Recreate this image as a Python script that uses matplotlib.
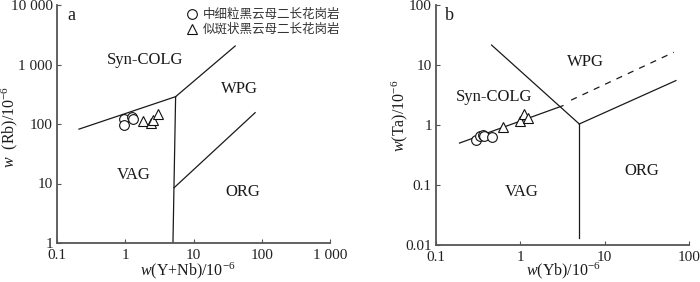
import matplotlib
matplotlib.use("Agg")
import matplotlib.pyplot as plt
import numpy as np

plt.rcParams['font.family'] = ['Liberation Serif', 'Noto Sans CJK SC']
plt.rcParams['mathtext.fontset'] = 'custom'
plt.rcParams['mathtext.rm'] = 'Liberation Serif'
plt.rcParams['mathtext.it'] = 'Liberation Serif:italic'

# ---------------- data: panel a (Rb vs Y+Nb) ----------------
a_circ_x = [0.95, 0.97, 1.25, 1.28]
a_circ_y = [122, 97, 133, 120]
a_tri_x = [1.8, 2.35, 2.57, 3.0]
a_tri_y = [114, 103, 117, 147]

a_lines = [
    ([0.21, 5.47], [82, 288]),
    ([5.47, 40.8], [288, 2046]),
    ([5.47, 5.0], [288, 1]),
    ([5.2, 80], [8.5, 155]),
]
a_xticks = [0.1, 1, 10, 100, 1000]
a_xticklabels = ['0.1', '1', '10', '100', '1 000']
a_yticks = [1, 10, 100, 1000, 10000]
a_yticklabels = ['1', '10', '100', '1 000', '10 000']

# ---------------- data: panel b (Ta vs Yb) ----------------
b_circ_x = [0.30, 0.33, 0.36, 0.37, 0.46]
b_circ_y = [0.56, 0.66, 0.68, 0.66, 0.62]
b_tri_x = [0.63, 1.0, 1.1, 1.24]
b_tri_y = [0.94, 1.17, 1.55, 1.29]

b_lines = [
    ([0.456, 5.0], [21.5, 1.04]),
    ([5.0, 5.0], [1.04, 0.013]),
    ([5.0, 70], [1.04, 5.5]),
    ([0.19, 3.2], [0.5, 2.1]),
]
b_dashed = ([4.0, 66], [2.6, 16.3])
b_xticks = [0.1, 1, 10, 100]
b_xticklabels = ['0.1', '1', '10', '100']
b_yticks = [0.01, 0.1, 1, 10, 100]
b_yticklabels = ['0.01', '0.1', '1', '10', '100']

legend_labels = ['中细粒黑云母二长花岗岩', '似斑状黑云母二长花岗岩']

fig = plt.figure(figsize=(7.0, 2.82), dpi=100)
ax_a = fig.add_axes([57/700, 39/282, 273/700, 238/282])
ax_b = fig.add_axes([436/700, 37/282, 253/700, 240/282])

LC = '#1a1a1a'
SC = '#555555'

def style(ax, xt, xtl, yt, ytl, xlim, ylim):
    ax.set_xscale('log')
    ax.set_yscale('log')
    ax.set_xlim(*xlim)
    ax.set_ylim(*ylim)
    ax.spines['top'].set_visible(False)
    ax.spines['right'].set_visible(False)
    for s in ('left', 'bottom'):
        ax.spines[s].set_color(SC)
        ax.spines[s].set_linewidth(1.3)
    ax.set_xticks(xt)
    ax.set_xticklabels(xtl)
    ax.set_yticks(yt)
    ax.set_yticklabels(ytl)
    ax.minorticks_off()
    ax.tick_params(direction='in', length=3, width=0.8, color=SC,
                   labelsize=11, pad=3, labelcolor='#222222')
    ax.tick_params(axis='x', pad=4.5)
    ax.set_facecolor('none')

style(ax_a, a_xticks, a_xticklabels, a_yticks, a_yticklabels, (0.1, 1000), (1, 10000))
style(ax_b, b_xticks, b_xticklabels, b_yticks, b_yticklabels, (0.1, 100), (0.01, 100))

for xs, ys in a_lines:
    ax_a.plot(xs, ys, color=LC, lw=0.9)
for xs, ys in b_lines:
    ax_b.plot(xs, ys, color=LC, lw=0.9)
ax_b.plot(b_dashed[0], b_dashed[1], color=LC, lw=0.9, ls=(0, (5, 5)))

mk = dict(mfc='white', mec='#111111', mew=0.8, ls='none', ms=7, zorder=5)
ax_a.plot(a_circ_x, a_circ_y, marker='o', **mk)
ax_a.plot(a_tri_x, a_tri_y, marker='^', **mk)
ax_b.plot(b_circ_x, b_circ_y, marker='o', **mk)
ax_b.plot(b_tri_x, b_tri_y, marker='^', **mk)

tc = '#1a1a1a'
def lab(ax, x, y, s, size=12, **kw):
    ax.text(x, y, s, transform=ax.transAxes, ha='center', va='center',
            fontsize=size, color=tc, **kw)

# panel a texts
lab(ax_a, 0.054, 0.955, 'a', 13)
lab(ax_a, 0.322, 0.769, 'Syn-COLG')
lab(ax_a, 0.668, 0.646, 'WPG')
lab(ax_a, 0.28, 0.286, 'VAG')
lab(ax_a, 0.68, 0.213, 'ORG')
lab(ax_a, 0.48, -0.118, r'$\mathit{w}$(Y+Nb)/10$^{-6}$', 11.5)
lab(ax_a, -0.172, 0.487, r'$\mathit{w}$  (Rb)/10$^{-6}$', 11.5, rotation=90)

# legend
ax_a.plot([0.493], [0.962], marker='o', transform=ax_a.transAxes, clip_on=False, **mk)
ax_a.plot([0.493], [0.899], marker='^', transform=ax_a.transAxes, clip_on=False, **mk)
for yy, t in zip([0.962, 0.899], legend_labels):
    ax_a.text(0.535, yy, t, transform=ax_a.transAxes, ha='left', va='center',
              fontsize=9, color='#333333', family=['Noto Sans CJK SC', 'DejaVu Sans'])

# panel b texts
lab(ax_b, 0.055, 0.955, 'b', 13)
lab(ax_b, 0.589, 0.764, 'WPG')
lab(ax_b, 0.23, 0.618, 'Syn-COLG')
lab(ax_b, 0.339, 0.22, 'VAG')
lab(ax_b, 0.815, 0.308, 'ORG')
lab(ax_b, 0.505, -0.106, r'$\mathit{w}$(Yb)/10$^{-6}$', 11.5)
lab(ax_b, -0.142, 0.5375, r'$\mathit{w}$(Ta)/10$^{-6}$', 11.5, rotation=90)

fig.savefig('out.png', dpi=100)
